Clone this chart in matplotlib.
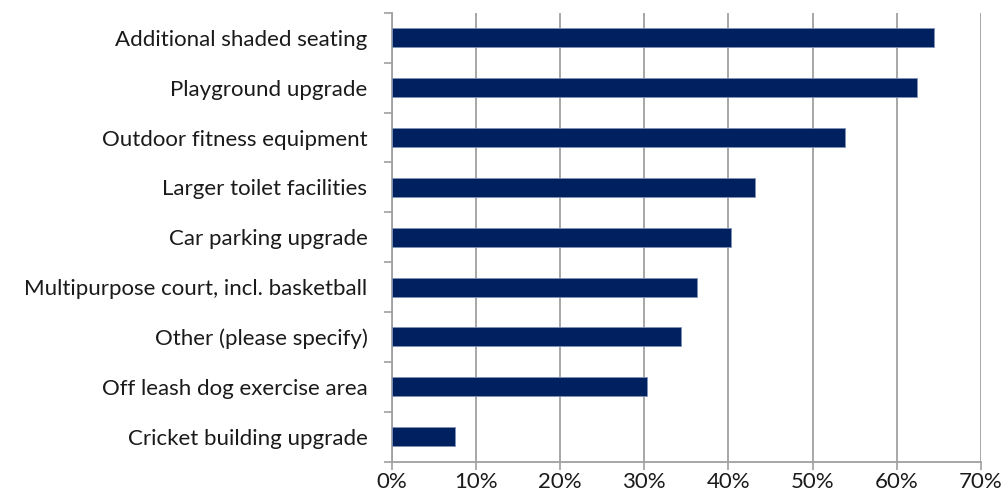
import matplotlib
matplotlib.use('Agg')
import matplotlib.pyplot as plt
from matplotlib.ticker import PercentFormatter

# inputs
categories = ['Additional shaded seating', 'Playground upgrade', 'Outdoor fitness equipment',
              'Larger toilet facilities', 'Car parking upgrade',
              'Multipurpose court, incl. basketball', 'Other (please specify)',
              'Off leash dog exercise area', 'Cricket building upgrade']
values = [64.4, 62.4, 53.8, 43.1, 40.3, 36.3, 34.4, 30.3, 7.5]
xticks = [0, 10, 20, 30, 40, 50, 60, 70]

plt.rcParams['font.family'] = ['Lato', 'DejaVu Sans']

fig = plt.figure(figsize=(10.04, 4.9), dpi=100)
ax = fig.add_axes([391.7 / 1004, 1 - 461.5 / 490, (981 - 391.7) / 1004, (461.5 - 13) / 490])

pos = list(range(len(categories)))
ax.barh(pos, values, height=0.38, color='#002060', edgecolor='#8093b8', linewidth=0.6, zorder=3)

ax.set_xlim(0, 70)
ax.set_ylim(len(categories) - 0.5, -0.5)
ax.set_xticks(xticks)
ax.xaxis.set_major_formatter(PercentFormatter(decimals=0))
ax.set_yticks(pos)
ax.set_yticklabels(categories)
ax.set_yticks([p - 0.5 for p in pos] + [len(pos) - 0.5], minor=True)
ax.tick_params(axis='y', which='major', length=0, pad=17.5, labelsize=16, colors='#1a1a1a')
ax.tick_params(axis='y', which='minor', length=6, color='#a0a0a0', width=1.2)
ax.tick_params(axis='x', length=6, color='#a0a0a0', width=1.2, pad=1.5, labelsize=16, labelcolor='#1a1a1a')

ax.grid(axis='x', color='#a0a0a0', linewidth=1.3, zorder=0)
for side in ['top', 'right']:
    ax.spines[side].set_visible(False)
for side in ['left', 'bottom']:
    ax.spines[side].set_color('#a0a0a0')
    ax.spines[side].set_linewidth(1.3)

fig.savefig('out.png', dpi=100)
